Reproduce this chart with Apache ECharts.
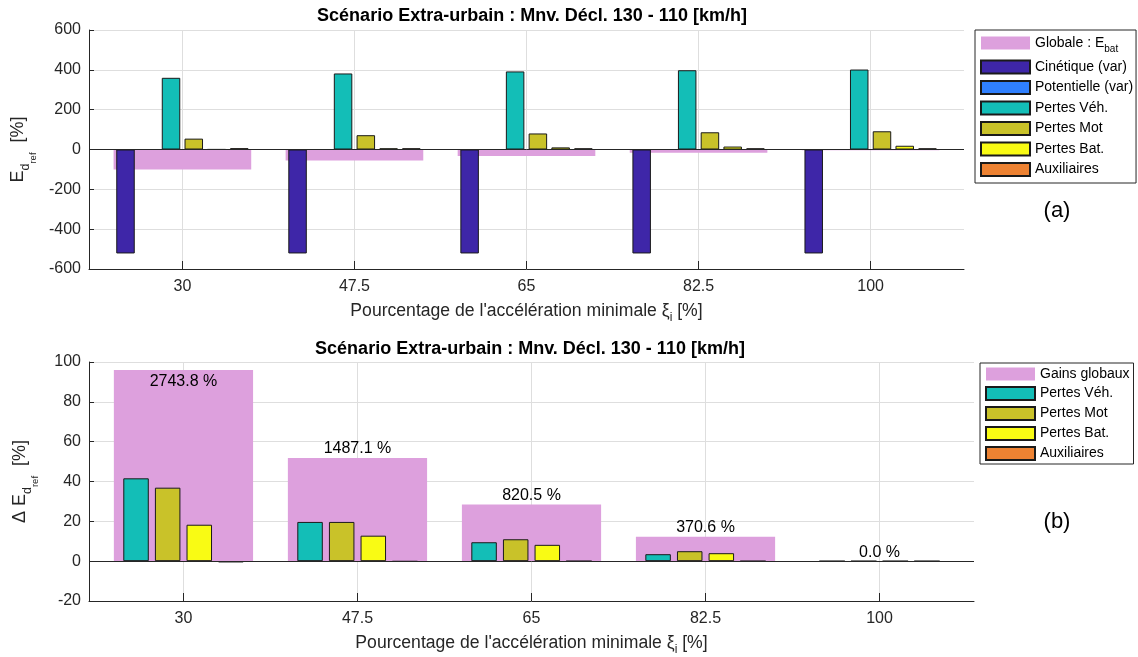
<!DOCTYPE html>
<html>
<head>
<meta charset="utf-8">
<script src="https://cdn.jsdelivr.net/npm/echarts@6/dist/echarts.min.js"></script>
<style>html,body{margin:0;padding:0;background:#fff}#c{width:1138px;height:657px}</style>
</head>
<body>
<div id="c"></div>
<script>
// ---- Data ----
const xTicks = [30, 47.5, 65, 82.5, 100];
const xLabels = ['30', '47.5', '65', '82.5', '100'];

// Top chart (a): E_d_ref [%]
const globale     = [-100, -55.8, -32.4, -16.5, -3.5];
const cinetique   = [-522, -522, -522, -522, -522];
const potentielle = [0, 0, 0, 0, 0];
const pertesVeh   = [360, 381.8, 392, 398, 401.5];
const pertesMot   = [54.6, 71.8, 80.5, 86.5, 91.5];
const pertesBat   = [0.5, 6, 10.6, 14.8, 18.8];
const auxiliaires = [6.6, 6.2, 6, 6, 6];

// Bottom chart (b): Delta E_d_ref [%]
const gainsGlobaux = [96.0, 51.8, 28.4, 12.2, 0];
const gainsVeh     = [41.6, 19.7, 9.5, 3.5, 0];
const gainsMot     = [36.9, 19.7, 11.0, 5.0, 0];
const gainsBat     = [18.3, 12.8, 8.2, 4.0, 0];
const gainsAux     = [-0.6, -0.2, 0, 0, 0];
const gainsPct     = ['2743.8 %', '1487.1 %', '820.5 %', '370.6 %', '0.0 %'];

const titleText = 'Scénario Extra-urbain : Mnv. Décl. 130 - 110 [km/h]';

// ---- Styles ----
const FONT = "'Liberation Sans', Arial, Helvetica, sans-serif";
const AX = '#262626';
const GRIDC = '#dedede';
const C = {
  glob: '#DDA0DD', cin: '#3E26A8', pot: '#2F80FF', veh: '#13BEB7',
  mot: '#C9C229', bat: '#F9FB14', aux: '#ED8232'
};
const XMIN = 20.5, XMAX = 109.5;

function pairs(arr) { return xTicks.map((x, i) => [x, arr[i]]); }

function xAxisMain(gridIndex) {
  return {
    type: 'value', gridIndex, min: XMIN, max: XMAX,
    axisLine: { show: true, onZero: false, lineStyle: { color: AX, width: 1 } },
    axisTick: { show: true, inside: true, length: 8, customValues: xTicks, lineStyle: { color: AX } },
    axisLabel: { show: true, customValues: xTicks, margin: 10, fontSize: 16, color: AX, fontFamily: FONT,
      formatter: v => xLabels[xTicks.indexOf(v)] },
    splitLine: { show: true, lineStyle: { color: GRIDC, width: 1 } },
    name: "Pourcentage de l'accélération minimale ξ{i|i} [%]",
    nameLocation: 'middle', nameGap: 42,
    nameTextStyle: { fontSize: 17.6, color: AX, fontFamily: FONT, verticalAlign: 'middle', align: 'center',
      rich: { i: { fontSize: 12, fontFamily: FONT, color: AX, padding: [13, 0, 0, 0] } } }
  };
}
function xAxisHidden(gridIndex) {
  return { type: 'value', gridIndex, min: XMIN, max: XMAX, show: false };
}
function yAxis(gridIndex, min, max, interval, name) {
  return {
    type: 'value', gridIndex, min, max, interval,
    axisLine: { show: true, lineStyle: { color: AX, width: 1 } },
    axisTick: { show: true, inside: true, length: 5, lineStyle: { color: AX } },
    axisLabel: { margin: 8, fontSize: 16, color: AX, fontFamily: FONT },
    splitLine: { show: true, lineStyle: { color: GRIDC, width: 1 } },
    name, nameLocation: 'middle', nameGap: 69, nameRotate: 90,
    nameTextStyle: { fontSize: 18, color: AX, fontFamily: FONT, verticalAlign: 'middle', align: 'center',
      rich: {
        d: { fontSize: 12.5, fontFamily: FONT, color: AX, padding: [15, 0, 0, 0] },
        r: { fontSize: 9.5, fontFamily: FONT, color: AX, padding: [31, 0, 0, 0] }
      } }
  };
}
function bar(name, arr, color, xIdx, yIdx, w, gap, extra) {
  return Object.assign({
    type: 'bar', name, xAxisIndex: xIdx, yAxisIndex: yIdx, data: pairs(arr),
    barWidth: w, barGap: gap,
    itemStyle: { color, borderColor: '#1a1a1a', borderWidth: 1 },
    emphasis: { disabled: true }
  }, extra || {});
}
const zeroLine = {
  silent: true, symbol: 'none', animation: false,
  lineStyle: { color: AX, width: 1, type: 'solid' },
  label: { show: false }, emphasis: { disabled: true },
  data: [{ yAxis: 0 }]
};

const legendCommon = {
  orient: 'vertical', icon: 'rect', itemWidth: 49, itemHeight: 13,
  borderColor: AX, borderWidth: 1, backgroundColor: '#fff', selectedMode: false,
  textStyle: { fontSize: 14, color: '#000', fontFamily: FONT,
    rich: { sub: { fontSize: 10, fontFamily: FONT, color: '#000', padding: [12, 0, 0, 0] } } }
};

const chart = echarts.init(document.getElementById('c'), null, { renderer: 'canvas' });
chart.setOption({
  animation: false,
  backgroundColor: '#fff',
  grid: [
    { left: 89, top: 30, width: 875, height: 239, containLabel: false },
    { left: 89, top: 362, width: 885, height: 239, containLabel: false }
  ],
  xAxis: [xAxisMain(0), xAxisHidden(0), xAxisMain(1), xAxisHidden(1)],
  yAxis: [
    yAxis(0, -600, 600, 200, 'E{d|d}{r|ref}  [%]'),
    yAxis(1, -20, 100, 20, 'Δ E{d|d}{r|ref}  [%]')
  ],
  legend: [
    Object.assign({}, legendCommon, {
      left: 975, top: 30, itemGap: 5.5, padding: [6, 3, 6, 5],
      data: ['Globale : Ebat', 'Cinétique (var)', 'Potentielle (var)', 'Pertes Véh.', 'Pertes Mot', 'Pertes Bat.', 'Auxiliaires'],
      formatter: n => n === 'Globale : Ebat' ? 'Globale : E{sub|bat}' : n
    }),
    Object.assign({}, legendCommon, {
      left: 980, top: 363, itemGap: 5, padding: [4, 4, 3, 5],
      data: ['Gains globaux', 'Pertes Véh.', 'Pertes Mot', 'Pertes Bat.', 'Auxiliaires']
    })
  ],
  graphic: [
    { type: 'text', x: 532, y: 16, style: { text: titleText, font: 'bold 18px ' + FONT, fill: '#000', textAlign: 'center', textVerticalAlign: 'middle' } },
    { type: 'text', x: 530, y: 349, style: { text: titleText, font: 'bold 18px ' + FONT, fill: '#000', textAlign: 'center', textVerticalAlign: 'middle' } },
    { type: 'text', x: 1057, y: 211, style: { text: '(a)', font: '22px ' + FONT, fill: '#000', textAlign: 'center', textVerticalAlign: 'middle' } },
    { type: 'text', x: 1057, y: 522, style: { text: '(b)', font: '22px ' + FONT, fill: '#000', textAlign: 'center', textVerticalAlign: 'middle' } }
  ],
  series: [
    // top chart
    bar('Globale : Ebat', globale, C.glob, 1, 0, '80%', '0%', { itemStyle: { color: C.glob, borderWidth: 0 } }),
    bar('Cinétique (var)', cinetique, C.cin, 0, 0, 18.5, '23%'),
    bar('Potentielle (var)', potentielle, C.pot, 0, 0, 18.5, '23%'),
    bar('Pertes Véh.', pertesVeh, C.veh, 0, 0, 18.5, '23%'),
    bar('Pertes Mot', pertesMot, C.mot, 0, 0, 18.5, '23%'),
    bar('Pertes Bat.', pertesBat, C.bat, 0, 0, 18.5, '23%'),
    bar('Auxiliaires', auxiliaires, C.aux, 0, 0, 18.5, '23%', { markLine: zeroLine }),
    // bottom chart
    bar('Gains globaux', gainsGlobaux, C.glob, 3, 1, '80%', '0%', {
      itemStyle: { color: C.glob, borderWidth: 0 },
      data: xTicks.map((x, i) => ({
        value: [x, gainsGlobaux[i]],
        label: { position: gainsGlobaux[i] + 8 > 100 ? 'insideTop' : 'top', distance: gainsGlobaux[i] + 8 > 100 ? 4 : 1 }
      })),
      label: { show: true, fontSize: 16, color: '#000', fontFamily: FONT, formatter: p => gainsPct[p.dataIndex] }
    }),
    bar('Pertes Véh.', gainsVeh, C.veh, 2, 1, 25.5, '24%'),
    bar('Pertes Mot', gainsMot, C.mot, 2, 1, 25.5, '24%'),
    bar('Pertes Bat.', gainsBat, C.bat, 2, 1, 25.5, '24%'),
    bar('Auxiliaires', gainsAux, C.aux, 2, 1, 25.5, '24%', { markLine: zeroLine })
  ]
});
</script>
</body>
</html>
